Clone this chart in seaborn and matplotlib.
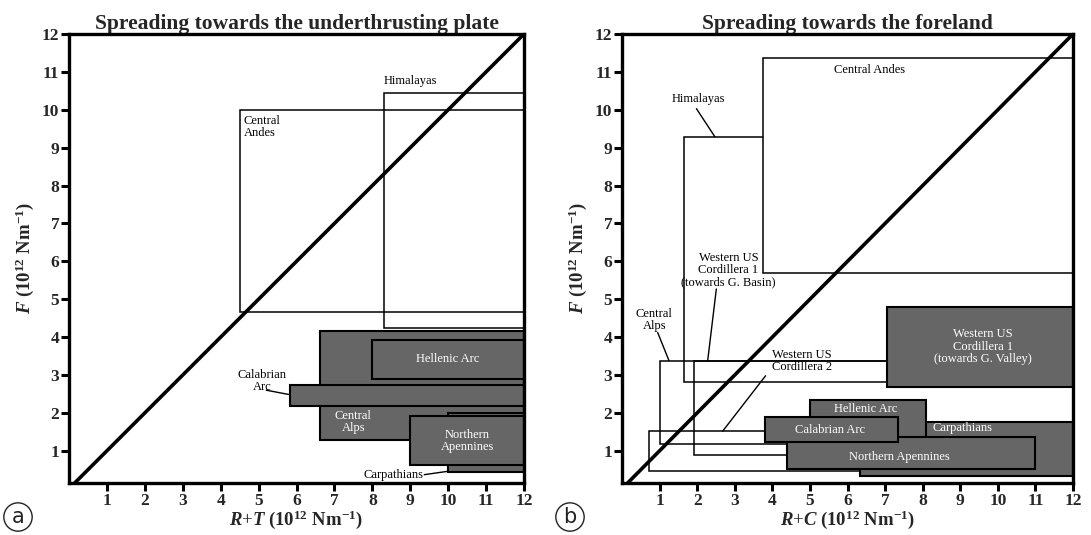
import matplotlib
matplotlib.use("Agg")
import matplotlib.pyplot as plt
from matplotlib.patches import Rectangle
import seaborn as sns
import numpy as np

# ---------------- data ----------------
ticks = list(range(1, 13))
diag_x = [0, 12]
diag_y = [0, 12]

# Panel a: open boxes (name, x0, x1, y0, y1)
a_open_names = ["Central Andes", "Himalayas"]
a_open_x0 = [4.5, 8.3]
a_open_x1 = [12.0, 12.0]
a_open_y0 = [4.65, 4.23]
a_open_y1 = [10.0, 10.45]

# Panel a: filled boxes
a_fill_names = ["Central Alps", "Hellenic Arc", "Calabrian Arc", "Carpathians", "Northern Apennines"]
a_fill_x0 = [6.63, 8.0, 5.83, 10.0, 9.0]
a_fill_x1 = [12.0, 12.0, 12.0, 12.0, 12.0]
a_fill_y0 = [1.28, 2.89, 2.19, 0.44, 0.63]
a_fill_y1 = [4.16, 3.93, 2.74, 2.0, 1.91]

# Panel b: open boxes
b_open_names = ["Western US Cordillera 2", "Central Alps", "Western US Cordillera 1 (G. Basin)", "Himalayas", "Central Andes"]
b_open_x0 = [0.71, 1.0, 1.92, 1.64, 3.75]
b_open_x1 = [12.0, 12.0, 12.0, 12.0, 12.0]
b_open_y0 = [0.47, 1.17, 0.90, 2.82, 5.70]
b_open_y1 = [1.52, 3.38, 3.38, 9.29, 11.36]

# Panel b: filled boxes
b_fill_names = ["Western US Cordillera 1 (G. Valley)", "Carpathians", "Hellenic Arc", "Northern Apennines", "Calabrian Arc"]
b_fill_x0 = [7.05, 6.34, 4.99, 4.38, 3.80]
b_fill_x1 = [12.0, 12.0, 8.08, 11.0, 7.35]
b_fill_y0 = [2.69, 0.33, 1.00, 0.52, 1.22]
b_fill_y1 = [4.80, 1.77, 2.34, 1.36, 1.90]

# ---------------- style ----------------
sns.set_theme(style="ticks")
plt.rcParams["font.family"] = ["Liberation Serif", "DejaVu Serif"]
plt.rcParams["mathtext.fontset"] = "custom"
plt.rcParams["mathtext.rm"] = "Liberation Serif:bold"
plt.rcParams["mathtext.bf"] = "Liberation Serif:bold"
plt.rcParams["mathtext.it"] = "Liberation Serif:bold:italic"

GRAY = "#666666"
fig = plt.figure(figsize=(10.91, 5.35), dpi=100)
axA = fig.add_axes([69 / 1091, 52 / 535, 455 / 1091, 449 / 535])
axB = fig.add_axes([622 / 1091, 52 / 535, 451 / 1091, 449 / 535])


def style_axes(ax, title, xlab):
    ax.set_xlim(0, 12)
    ax.set_ylim(0.15, 12)
    for s in ax.spines.values():
        s.set_linewidth(2.4)
        s.set_color("black")
        s.set_zorder(10)
    ax.set_xticks(ticks)
    ax.set_yticks(ticks)
    ax.set_xticklabels([str(t) for t in ticks], fontweight="bold", fontsize=12.5)
    ax.set_yticklabels([str(t) for t in ticks], fontweight="bold", fontsize=12.5)
    ax.tick_params(axis="both", direction="out", length=6, width=2.2, color="black",
                   pad=1, top=False, right=False)
    ax.tick_params(axis="x", pad=1)
    ax.set_title(title, fontsize=15.5, fontweight="bold", pad=2)
    ax.set_xlabel(xlab, fontsize=13.5, labelpad=0)
    ax.set_ylabel(r"$F$ $(10^{12}\ \mathrm{Nm}^{-1})$", fontsize=13.5, labelpad=4)
    ax.set_facecolor("white")


def open_box(ax, x0, x1, y0, y1, fill=False, z=2):
    ax.add_patch(Rectangle((x0, y0), x1 - x0, y1 - y0, fill=fill,
                           facecolor="white", edgecolor="black", lw=1.1, zorder=z))


def gray_box(ax, x0, x1, y0, y1, z=3):
    ax.add_patch(Rectangle((x0, y0), x1 - x0, y1 - y0, facecolor=GRAY,
                           edgecolor="black", lw=1.5, zorder=z))


lab = dict(fontsize=9, zorder=20)

# ---------- panel a ----------
style_axes(axA, "Spreading towards the underthrusting plate",
           r"$R$+$T$ $(10^{12}\ \mathrm{Nm}^{-1})$")
for i in range(len(a_open_names)):
    open_box(axA, a_open_x0[i], a_open_x1[i], a_open_y0[i], a_open_y1[i])
for i in range(len(a_fill_names)):
    gray_box(axA, a_fill_x0[i], a_fill_x1[i], a_fill_y0[i], a_fill_y1[i], z=3 + i)
sns.lineplot(x=diag_x, y=diag_y, ax=axA, color="black", lw=2.6, zorder=15)

axA.text(4.6, 9.85, "Central\nAndes", ha="left", va="top", color="black", linespacing=1.0, **lab)
axA.text(8.3, 10.6, "Himalayas", ha="left", va="bottom", color="black", **lab)
axA.text(10.0, 3.41, "Hellenic Arc", ha="center", va="center", color="white", **lab)
axA.text(7.5, 1.75, "Central\nAlps", ha="center", va="center", color="white", linespacing=1.0, **lab)
axA.text(10.5, 1.26, "Northern\nApennines", ha="center", va="center", color="white", linespacing=1.0, **lab)
axA.text(5.1, 2.85, "Calabrian\nArc", ha="center", va="center", color="black", linespacing=1.0, **lab)
axA.plot([5.2, 5.83], [2.6, 2.48], color="black", lw=1.0, zorder=20)
axA.text(9.35, 0.37, "Carpathians", ha="right", va="center", color="black", **lab)
axA.plot([9.37, 10.0], [0.37, 0.46], color="black", lw=1.0, zorder=20)

# ---------- panel b ----------
style_axes(axB, "Spreading towards the foreland",
           r"$R$+$C$ $(10^{12}\ \mathrm{Nm}^{-1})$")
for i in range(len(b_open_names)):
    open_box(axB, b_open_x0[i], b_open_x1[i], b_open_y0[i], b_open_y1[i],
             fill=(b_open_names[i] == "Central Andes"), z=2 + 0.1 * i)
bz = [4, 4, 5, 6, 7]
for i in range(len(b_fill_names)):
    gray_box(axB, b_fill_x0[i], b_fill_x1[i], b_fill_y0[i], b_fill_y1[i], z=bz[i] + 0.1 * i)
sns.lineplot(x=diag_x, y=diag_y, ax=axB, color="black", lw=2.6, zorder=15)

axB.text(6.6, 11.06, "Central Andes", ha="center", va="center", color="black", **lab)
axB.text(2.04, 10.29, "Himalayas", ha="center", va="center", color="black", **lab)
axB.plot([1.98, 2.47], [10.03, 9.29], color="black", lw=1.0, zorder=20)
axB.text(2.83, 5.77, "Western US\nCordillera 1\n(towards G. Basin)", ha="center", va="center",
         color="black", linespacing=1.0, **lab)
axB.plot([2.51, 2.28], [5.27, 3.38], color="black", lw=1.0, zorder=20)
axB.text(0.86, 4.45, "Central\nAlps", ha="center", va="center", color="black", linespacing=1.0, **lab)
axB.plot([0.95, 1.25], [4.12, 3.38], color="black", lw=1.0, zorder=20)
axB.text(4.79, 3.37, "Western US\nCordillera 2", ha="center", va="center", color="black",
         linespacing=1.0, **lab)
axB.plot([3.82, 2.68], [2.98, 1.52], color="black", lw=1.0, zorder=20)
axB.text(9.6, 3.75, "Western US\nCordillera 1\n(towards G. Valley)", ha="center", va="center",
         color="white", linespacing=1.05, **lab)
axB.text(6.48, 2.1, "Hellenic Arc", ha="center", va="center", color="white", **lab)
axB.text(9.06, 1.6, "Carpathians", ha="center", va="center", color="white", **lab)
axB.text(5.54, 1.55, "Calabrian Arc", ha="center", va="center", color="white", **lab)
axB.text(7.38, 0.84, "Northern Apennines", ha="center", va="center", color="white", **lab)

# circled panel letters
for xx, letter in [(18 / 1091, "a"), (570 / 1091, "b")]:
    fig.text(xx, 18 / 535, letter, ha="center", va="center", fontsize=15,
             family="DejaVu Sans", color="#222222",
             bbox=dict(boxstyle="circle,pad=0.2", fc="white", ec="#222222", lw=1.0))

fig.savefig("out.png", dpi=100)
